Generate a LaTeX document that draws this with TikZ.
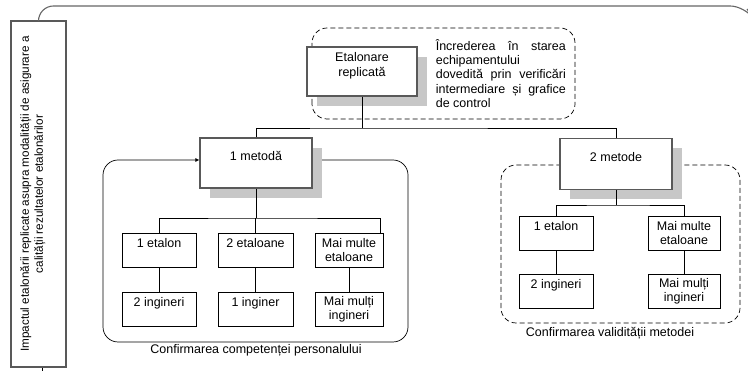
\documentclass[tikz,border=0pt]{standalone}
\usepackage{fontspec}
\setmainfont{Liberation Sans}
\usetikzlibrary{positioning}
\usetikzlibrary{shadows}
\usetikzlibrary{arrows.meta}
\usetikzlibrary{backgrounds}

\begin{document}
\begin{tikzpicture}[x=1pt, y=1pt, font=\fontsize{12.5}{14.3}\selectfont,
	frame/.style 2 args = {draw=black!65, line width=1.2pt, fill=white, align=center, inner sep=2pt,
		append after command={\pgfextra{\draw[black, line width=0.5pt]
			([shift={(2pt,2pt)}]\tikzlastnode.#1) rectangle ([shift={(-2pt,-2pt)}]\tikzlastnode.#2);}}},
	head/.style = {frame={south west}{north east}, drop shadow={shadow xshift=10pt, shadow yshift=-10pt, fill=black!22, opacity=1}},
	leaf/.style = {draw, line width=0.6pt, fill=white, align=center, inner sep=2pt, minimum width=74pt, minimum height=34pt},
	group/.style = {line width=0.7pt, rounded corners=15pt},
	dgroup/.style = {group, dash pattern=on 5pt off 3pt},
	link/.style = {line width=0.7pt}]
	\useasboundingbox (0,0) rectangle (748,371);

	\node[frame={north west}{south east}, rotate=90, minimum width=346pt, minimum height=55pt, font=\fontsize{11.7}{14}\selectfont] (imp) at (38.5,177)
		{Impactul etalonării replicate asupra modalității de asigurare a\\calității rezultatelor etalonărilor\\\mbox{}};
	\draw[black!60, line width=1.1pt, rounded corners=15pt] (imp.east) |- (745,365) -- ++(2,-3);
	\draw[link] ([xshift=3.5pt]imp.west) -- ++(0,-4);

	% top level
	\node[head, minimum width=110pt, minimum height=49pt] (et) at (362,299.5) {Etalonare\\replicată\\\mbox{}};
	\node[text width=130pt, align=justify, inner sep=0pt, right=18pt of et, yshift=-2pt] (incr)
		{Încrederea în starea\linebreak echipamentului\\ dovedită prin verificări\linebreak intermediare și grafice\linebreak de control};

	\node[head, minimum width=112pt, minimum height=50pt] (m1) at (256,208) {1 metodă\\\mbox{}};
	\node[head, minimum width=112pt, minimum height=51pt] (m2) at (616,207) {2 metode\\\mbox{}};

	% 1 metoda
	\node[leaf] (e1) at (159,121) {1 etalon\\\mbox{}};
	\node[leaf, minimum width=75pt] (e2) at (255.5,121) {2 etaloane\\\mbox{}};
	\node[leaf, minimum width=68pt] (e3) at (349,121) {Mai multe\\etaloane};
	\node[leaf, below=25pt of e1] (i1) {2 ingineri\\\mbox{}};
	\node[leaf, minimum width=75pt, below=25pt of e2] (i2) {1 inginer\\\mbox{}};
	\node[leaf, minimum width=68pt, below=25pt of e3] (i3) {Mai mulți\\ingineri};

	% 2 metode
	\node[leaf] (f1) at (556,138) {1 etalon\\\mbox{}};
	\node[leaf, minimum width=72pt] (f2) at (684,138) {Mai multe\\etaloane};
	\node[leaf, below=24pt of f1] (g1) {2 ingineri\\\mbox{}};
	\node[leaf, minimum width=72pt, below=24pt of f2] (g2) {Mai mulți\\ingineri};

	\node (lp) at (256,21) {Confirmarea competenței personalului};
	\node (lv) at (610,38) {Confirmarea validității metodei};

	\coordinate (jt) at (362,243);
	\coordinate (jl) at (256,153);
	\coordinate (jr) at (616,166);
	\coordinate (g1top) at (0,211);

	\draw[link] (et) -- (jt);
	\draw[link] (m1.north) |- (jt) -| (m2.north);
	\draw[link] (m1) -- (jl);
	\draw[link] (e1.north) |- (jl) -| ([xshift=-3pt]e3.north east);
	\draw[link] (e2.north) -- (e2.north |- jl);
	\draw[link] (e1) -- (i1);
	\draw[link] (e2) -- (i2);
	\draw[link] (e3) -- (i3);
	\draw[link] (m2) -- (jr);
	\draw[link] (f1.north) |- (jr) -| (f2.north);
	\draw[link] (f1) -- (g1);
	\draw[link] (f2) -- (g2);

	\begin{scope}[on background layer]
		\draw[dgroup] (312,252) rectangle (575,343);
		\draw[group, {Latex[length=4pt,width=4pt]}-] (m1.west |- g1top) -| (103,29) -| (408,211) -- (m1.east |- g1top);
		\draw[dgroup] (501,48) rectangle (740,206);
	\end{scope}
\end{tikzpicture}
\end{document}
